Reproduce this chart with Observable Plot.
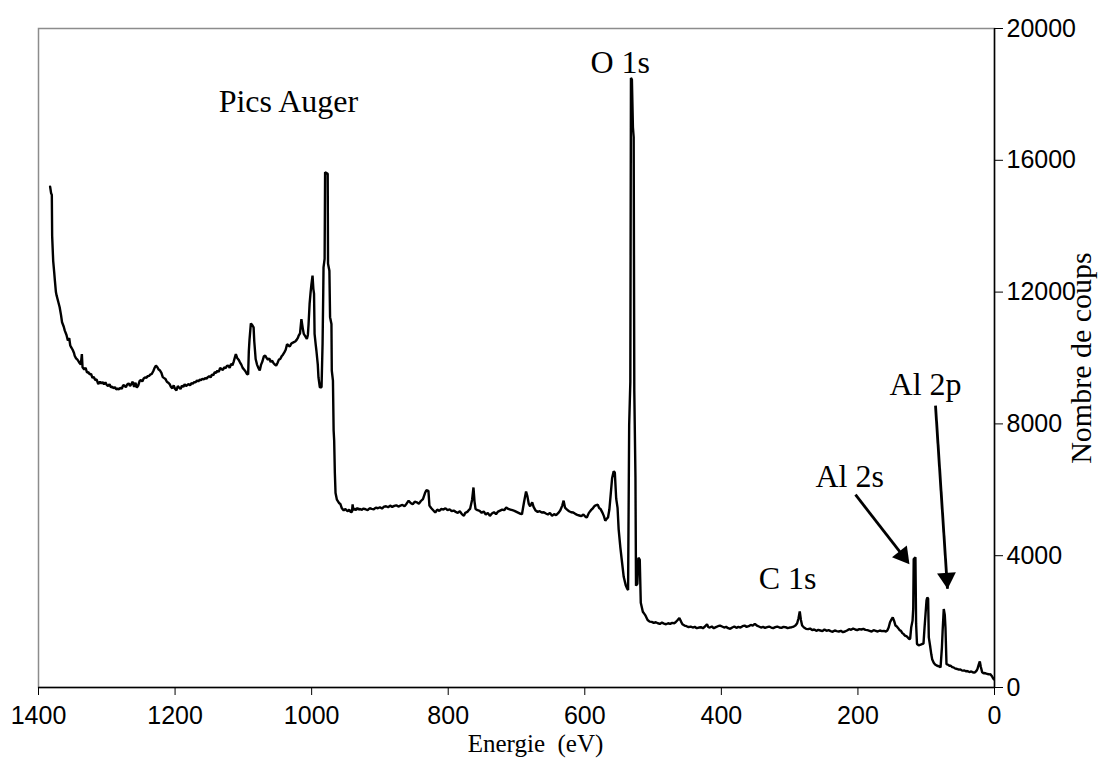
<!DOCTYPE html>
<html>
<head>
<meta charset="utf-8">
<script src="https://cdn.jsdelivr.net/npm/d3@7"></script>
<script src="https://cdn.jsdelivr.net/npm/@observablehq/plot@0.6"></script>
<style>
  html, body { margin: 0; padding: 0; background: #fff; }
</style>
</head>
<body>
<div id="chart"></div>
<script>
// Binding energy (eV) and counts
const energy = [
1383,1381.5,1380.5,1380,1378.5,1377,1376,1374.5,1373.5,1371,1369,1367,1365.5,1363,1361.5,1359,1357,1355,1353.5,1352,1350,1348,1347,1345,1343,1342,1340,1338,1336.5,1335.5,1333,1331,1329,1327,1325,1323,1321,1319,1317,1315,1312.5,1310,1308,1306,1304,1302,1300,1298,1296,1294,1292,1290,1288,1286,1284,1282,1280,1278,1276,1274,1272,1270,1268,1266,1264,1262,1260,1258,1256,1254,1252,1250,1248,1246,1244,1242,1240,1238,1236,1234,1232,1230,1228,1226,1224,1222,1220,1218,1216,1214,1212,1210,1208,1206,1204,1202,1200,1198,1196,1194,1192,1190,1188,1186,1184,1182,1180,1178,1176,1174,1172,1170,1168,1166,1164,1162,1160,1158,1156,1154,1152,1150,1148,1146,1144,1142,1140,1138,1136,1134,1132,1130,1128,1126,1124,1122,1120,1118,1116,1114,1112,1111,1109,1107,1105,1103,1101,1099,1097,1095,1093,1092,1091,1089,1087,1085,1084,1082,1080,1078,1076,1074,1072,1070,1068,1066,1064,1062,1060,1058,1056,1054,1052,1050,1048,1046,1044,1042,1040,1038,1036,1034,1032,1030,1028,1026,1024,1022,1020,1019,1017,1015,1013,1011.5,1009,1007,1005.5,1004.5,1003,1001.5,1000.5,998.7,997.5,996.5,995.7,994,993,991,990,988,985.5,984,983,982.6,981,980.3,976.5,976,974,973,971,970.5,968.8,967.8,967,966,965,963,960,958,956,953,951,949,947,945,943,941,940,939,937,935,933,931,929,
927,924,921,918,915,912,909,906,903,900,897,894,891,888,885,882,879,876,873,870,867,864,861,858,855,852,849,846,843,840,837,834,832,829,827.5,825,822,819,816,813,810,807,804,801,798,795,792,789,786,783,780,777,775,772,770,768,765,763,761.5,760,757,754,751,748,745,742,739,736,733,730,727,724,721,718,715,712,709,706,703,700,697,694,692,689,686,684,682,680,677,675,672,669,666,663,660,657,654,651,648,645,642,639,636,633,631,629,626,623,620,617,614,611,608,605,602,599,597,594,591,589,586,584,581,579,577,574,572,570,568,566,564,562,560,557.7,556,554,552,550.4,548,546,543,540,538,536.6,535,533.3,532.4,531,529.5,528.4,527.5,525.8,525,523,521.5,519.5,518,515,513,511,508,505,502,499,496,493,490,487,484,481,478,475,472,469,467,464,461.5,459,457,454,451,448,445,442,439,436,433,430,427,424,421,419,417,414,411,408,405,402,399,396,393,390,387,384,381,378,375,372,369,366,363,360,357,354,351,348,345,342,339,336,333,330,327,324,321,318,315,312,309,306,303,300,297,294,291.5,289,287,285.2,283.5,281.7,279,276,273,270,267,264,261,258,255,252,249,246,243,240,237,234,231,228,225,222,219,216,213,210,207,204,201,198,195,192,189,186,183,180,177,174,171,168,165,162,159,157,155,153,151,149,147,145,143,141,139,137,135,133,131,129,127,125,123.5,122,120,119,118.3,115.8,114.8,113.5,111,108,106,104,102.5,101,99.5,98.5,97.2,96.2,94,92.5,91.3,89,87,84,81,79,77,76,74.3,72.8,71.8,70.3,68,66,64,62,60,58,56,54,52,50,48,46,44,42,40,38,36,34,32,30,28,26,25,23,21.5,20,18,16,14,12,10,8,6,4,2,1
];
const counts = [
15200,15000,14950,13700,12950,12600,12350,12000,11900,11700,11540,11300,11085,10950,10830,10700,10530,10600,10380,10320,10250,10150,10070,9990,9950,9920,9850,9800,10120,9720,9650,9700,9560,9570,9500,9520,9400,9420,9330,9350,9210,9280,9230,9270,9200,9260,9180,9150,9200,9110,9130,9080,9120,9050,9070,9050,9100,9060,9180,9160,9110,9200,9230,9150,9210,9280,9120,9250,9100,9160,9300,9330,9290,9380,9410,9400,9450,9460,9500,9520,9600,9700,9770,9720,9650,9620,9550,9420,9390,9360,9280,9250,9210,9120,9080,9170,9060,9020,9150,9100,9060,9160,9120,9200,9150,9180,9210,9170,9240,9220,9270,9260,9320,9290,9340,9330,9370,9350,9390,9370,9420,9450,9410,9500,9480,9570,9550,9620,9580,9700,9660,9640,9720,9690,9760,9770,9700,9820,9780,9900,10050,10120,10000,9950,9870,9800,9700,9650,9600,9520,9500,10200,10550,11050,11000,10930,10500,9970,9800,9700,9620,9800,9900,10050,10070,10000,9950,9990,9880,9920,9850,9800,9770,9850,9950,9970,10050,10100,10170,10250,10420,10380,10350,10430,10460,10480,10500,10550,10620,10680,10750,11180,10900,10730,10650,10580,10700,11030,11640,12000,12200,12500,12100,11950,10730,10400,10220,9800,9410,9110,9110,10430,12000,12750,13010,15640,15590,12860,12650,11240,11035,9620,9310,7800,7490,6500,5900,5700,5600,5570,5450,5370,5420,5380,5350,5400,5330,5320,5560,5380,5430,5380,5450,5400,5420,
5390,5430,5410,5380,5440,5420,5410,5460,5440,5470,5430,5490,5500,5470,5520,5480,5510,5530,5490,5520,5540,5500,5580,5670,5600,5560,5640,5620,5580,5660,5720,5900,5990,5970,5520,5450,5380,5310,5400,5360,5420,5400,5440,5380,5410,5350,5370,5330,5300,5350,5260,5210,5300,5330,5380,5420,5700,6070,5650,5420,5380,5360,5300,5340,5250,5300,5210,5280,5320,5260,5340,5370,5400,5380,5460,5420,5400,5380,5360,5330,5300,5270,5260,5620,5950,5800,5570,5500,5620,5480,5370,5330,5350,5310,5320,5280,5250,5300,5210,5260,5230,5290,5370,5520,5670,5460,5400,5350,5320,5310,5270,5240,5220,5200,5250,5180,5160,5300,5380,5420,5500,5530,5550,5450,5420,5300,5200,5060,5120,5160,5400,5870,6350,6560,6520,5730,5450,4800,4270,3900,3360,3100,3000,2960,7960,9280,18500,18450,17000,16700,9010,6380,3090,3150,3940,3880,2570,2300,2240,2180,2050,2000,1990,1960,1980,1950,1930,1970,1940,1920,1950,1930,1960,1950,1980,2050,2110,2000,1920,1880,1860,1830,1850,1820,1840,1800,1820,1830,1800,1850,1920,1830,1820,1850,1800,1830,1860,1880,1850,1820,1840,1800,1780,1820,1850,1810,1840,1820,1860,1880,1840,1860,1900,1880,1930,1880,1850,1820,1840,1810,1830,1850,1820,1800,1830,1850,1820,1810,1840,1830,1800,1820,1830,1850,1880,1950,2100,2310,2050,1880,1820,1780,1770,1790,1740,1760,1720,1750,1730,1710,1760,1720,1740,1710,1690,1730,1710,1700,1720,1680,1700,1730,1770,1750,1790,1760,1740,1770,1760,1780,1750,1740,1720,1700,1740,1720,1700,1730,1710,1720,1700,1730,1820,1980,2060,2130,2020,1880,1850,1800,1740,1720,1650,1620,1570,1560,1520,1470,1480,1820,2030,2400,3900,3950,1930,1320,1280,1300,1320,1330,1800,2230,2650,2730,2700,1520,1220,1000,860,750,700,660,640,610,1220,1700,2380,2200,1820,710,690,660,660,620,610,580,570,560,540,550,520,510,520,490,500,480,470,490,460,455,470,520,560,700,790,620,460,430,440,420,410,400,405,350,280,250
];

// Axis ticks
const xTicks = [0, 200, 400, 600, 800, 1000, 1200, 1400];
const yTicks = [0, 4000, 8000, 12000, 16000, 20000];

// Annotations (data units)
const labelText = ["Pics Auger", "O 1s", "C 1s", "Al 2s", "Al 2p"];
const labelE = [1034, 548, 303, 212, 101];
const labelC = [17792, 18946, 3307, 6405, 9198];

// Arrows (data units): start -> end
const arrowName = ["Al 2s", "Al 2p"];
const arrowE1 = [203.6, 86.4];
const arrowC1 = [5852, 8554];
const arrowE2 = [128.5, 68.9];
const arrowC2 = [3850, 2997];

const spectrum = energy.map((e, i) => ({e, c: counts[i]}));
const labels = labelText.map((t, i) => ({t, e: labelE[i], c: labelC[i]}));
const arrows = arrowName.map((n, i) => ({n, e1: arrowE1[i], c1: arrowC1[i], e2: arrowE2[i], c2: arrowC2[i]}));

const serif = "'Liberation Serif', 'Times New Roman', serif";

const chart = Plot.plot({
  width: 1109,
  height: 758,
  marginLeft: 38,
  marginRight: 115,
  marginTop: 28,
  marginBottom: 71,
  style: {fontFamily: "'Liberation Sans', Arial, sans-serif", fontSize: "25px", background: "#fff", color: "#000"},
  x: {domain: [1400, 0]},
  y: {domain: [0, 20000]},
  marks: [
    Plot.frame({stroke: "#8c8c8c", strokeWidth: 1.5}),
    Plot.axisX({ticks: xTicks, tickSize: 8, tickPadding: 11, tickFormat: d => String(d), fontSize: 25, label: null}),
    Plot.axisY({anchor: "right", ticks: yTicks, tickSize: 8, tickPadding: 4, tickFormat: d => String(d), fontSize: 25, label: null}),
    Plot.ruleY([0], {stroke: "#000", strokeWidth: 1.5}),
    Plot.ruleX([0], {stroke: "#000", strokeWidth: 1.5}),
    Plot.line(spectrum, {x: "e", y: "c", stroke: "#000", strokeWidth: 2.4, strokeLinejoin: "miter"}),
    Plot.text(labels, {x: "e", y: "c", text: "t", fontFamily: serif, fontSize: 32, fill: "#000", textAnchor: "middle"}),
    Plot.link(arrows, {x1: "e1", y1: "c1", x2: "e2", y2: "c2", stroke: "#000", strokeWidth: 2.8}),
    Plot.dot(arrows.slice(0, 1), {x: "e2", y: "c2", symbol: "triangle", r: 7, fill: "#000", stroke: "none", rotate: 142, dx: -4, dy: -5}),
    Plot.dot(arrows.slice(1, 2), {x: "e2", y: "c2", symbol: "triangle", r: 7, fill: "#000", stroke: "none", rotate: 176, dx: -0.6, dy: -10.5}),
    Plot.text(["Nombre de coups"], {frameAnchor: "right", dx: 87, rotate: -90, textAnchor: "middle", lineAnchor: "middle", text: d => d, fontFamily: serif, fontSize: 30, fill: "#000"}),
    Plot.text(["Energie  (eV)"], {frameAnchor: "bottom", dx: 19, dy: 64, text: d => d, fontFamily: serif, fontSize: 25, fill: "#000"})
  ]
});
document.getElementById("chart").appendChild(chart);
</script>
</body>
</html>
